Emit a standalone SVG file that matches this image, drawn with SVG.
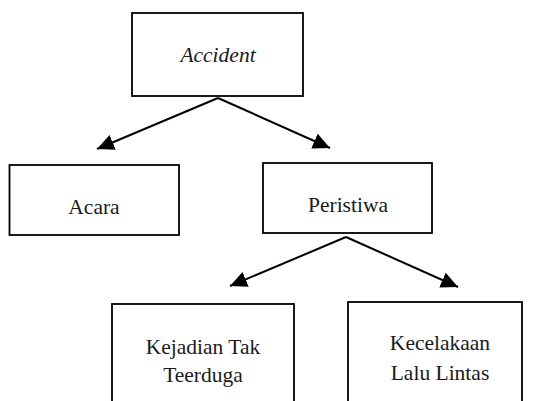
<svg xmlns="http://www.w3.org/2000/svg" width="533" height="401" viewBox="0 0 533 401">
<style>
.box{fill:#fff;stroke:#000;stroke-width:1.8}
.lbl{font-family:'Liberation Serif','Times New Roman',serif;font-size:21.5px;fill:#1a1a1a;text-anchor:middle}
.it{font-style:italic}
.con{stroke:#000;stroke-width:2;fill:none;marker-end:url(#ah)}
</style>
<defs>
<marker id="ah" markerUnits="userSpaceOnUse" markerWidth="18" markerHeight="16" refX="17" refY="8" orient="auto">
<path d="M0,0 L17,8 L0,16 z" fill="#000"/>
</marker>
</defs>
<rect width="533" height="401" fill="#fff"/>
<g id="n-accident"><rect class="box" x="132" y="13" width="171" height="83"/><text class="lbl it" x="218" y="62">Accident</text></g>
<g id="n-acara"><rect class="box" x="9.5" y="165" width="169.5" height="70"/><text class="lbl" x="94" y="214">Acara</text></g>
<g id="n-peristiwa"><rect class="box" x="263" y="163" width="169" height="70"/><text class="lbl" x="348" y="212">Peristiwa</text></g>
<g id="n-kejadian"><rect class="box" x="112" y="304" width="182" height="110"/><text class="lbl" x="203" y="354">Kejadian Tak</text><text class="lbl" x="203" y="382">Teerduga</text></g>
<g id="n-kecelakaan"><rect class="box" x="348" y="302" width="174" height="112"/><text class="lbl" x="440" y="350">Kecelakaan</text><text class="lbl" x="440" y="380">Lalu Lintas</text></g>
<g id="connectors">
<line class="con" x1="218" y1="98" x2="97" y2="149"/>
<line class="con" x1="218" y1="98" x2="330" y2="148"/>
<line class="con" x1="346" y1="237" x2="230" y2="286"/>
<line class="con" x1="346" y1="237" x2="458" y2="287"/>
</g>
</svg>
